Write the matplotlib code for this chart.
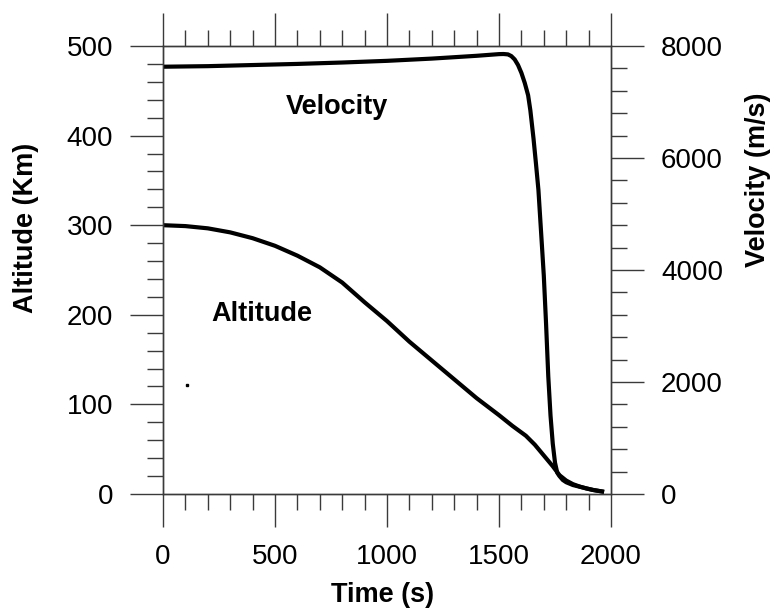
import matplotlib
matplotlib.use('Agg')
import matplotlib.pyplot as plt
from matplotlib.ticker import MultipleLocator

plt.rcParams['font.family'] = ['Liberation Sans', 'DejaVu Sans']

# altitude (km) vs time (s)
t_alt = [0, 100, 200, 300, 400, 500, 600, 700, 800, 900, 1000, 1100, 1200,
         1300, 1400, 1500, 1560, 1620, 1660, 1700, 1740, 1770, 1800, 1830,
         1860, 1890, 1920, 1960]
altitude = [300, 299, 296.5, 292, 285.5, 277, 266, 253, 236, 214, 193, 170, 149,
            128, 107, 88, 76, 65, 55, 43, 31, 21, 15, 11,
            8.3, 6.2, 4.5, 2.8]

# velocity (m/s) vs time (s)
t_vel = [0, 200, 400, 600, 800, 1000, 1200, 1400, 1500, 1520, 1540, 1555,
         1570, 1585, 1600, 1615, 1630, 1640, 1654, 1665, 1676, 1690, 1700,
         1710, 1720, 1730, 1740, 1750, 1760, 1770, 1785, 1800, 1830, 1860,
         1890, 1920, 1960]
velocity = [7630, 7640, 7660, 7680, 7705, 7735, 7775, 7825, 7855, 7857, 7850, 7820,
            7760, 7660, 7520, 7340, 7120, 6850, 6350, 5900, 5430, 4540, 3900,
            3050, 2100, 1400, 900, 560, 380, 320, 250, 210, 160, 130,
            100, 72, 45]

fig = plt.figure(figsize=(7.72, 6.08), dpi=100)
ax = fig.add_axes([163 / 772, 114 / 608, 448 / 772, 448 / 608])
ax2 = ax.twinx()

ax.plot(t_alt, altitude, color='black', linewidth=3, solid_joinstyle='round')
ax2.plot(t_vel, velocity, color='black', linewidth=3, solid_joinstyle='round')
ax.plot([107], [122], marker='s', markersize=1.5, color='black')

ax.set_xlim(0, 2000)
ax.set_ylim(0, 500)
ax2.set_ylim(0, 8000)

ax.xaxis.set_major_locator(MultipleLocator(500))
ax.xaxis.set_minor_locator(MultipleLocator(100))
ax.yaxis.set_major_locator(MultipleLocator(100))
ax.yaxis.set_minor_locator(MultipleLocator(20))
ax2.yaxis.set_major_locator(MultipleLocator(2000))
ax2.yaxis.set_minor_locator(MultipleLocator(400))

axis_col = '#3a3a3a'
for a in (ax, ax2):
    for s in a.spines.values():
        s.set_color(axis_col)
        s.set_linewidth(1.0)
    a.tick_params(which='major', direction='out', length=24, width=1.0,
                  color=axis_col, labelsize=20, pad=12)
    a.tick_params(which='minor', direction='out', length=11.5, width=1.0,
                  color=axis_col)
ax.tick_params(which='both', top=True, right=False, labeltop=False)
ax2.tick_params(which='both', left=False, right=True)

ax.set_xlabel('Time (s)', fontsize=19.5, fontweight='bold')
ax.set_ylabel('Altitude (Km)', fontsize=19.5, fontweight='bold')
ax2.set_ylabel('Velocity (m/s)', fontsize=19.5, fontweight='bold')
for lab in (ax.xaxis.label, ax.yaxis.label, ax2.yaxis.label):
    lab.set_va('center')
    lab.set_ha('center')
ax.xaxis.set_label_coords(0.491, -0.225)
ax.yaxis.set_label_coords(-0.306, 0.594)
ax2.yaxis.set_label_coords(1.328, 0.701)

ax.text(777, 432, 'Velocity', fontsize=19.5, fontweight='bold',
        ha='center', va='center')
ax.text(442, 201, 'Altitude', fontsize=19.5, fontweight='bold',
        ha='center', va='center')

fig.savefig('out.png', dpi=100)
